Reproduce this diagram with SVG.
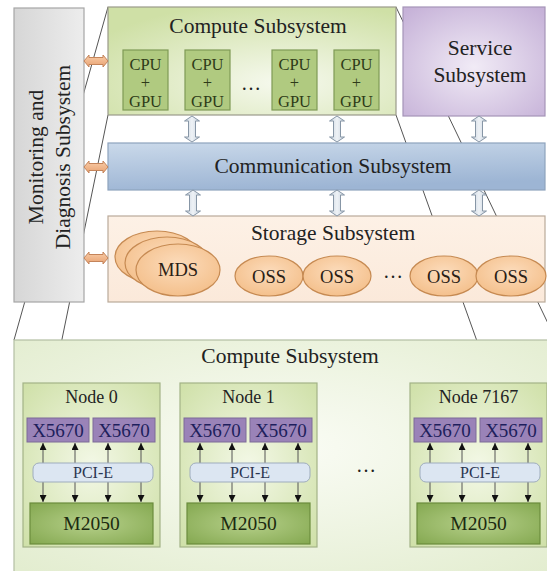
<svg xmlns="http://www.w3.org/2000/svg" width="547" height="571" viewBox="0 0 547 571">
  <defs>
    <radialGradient id="gCompute" cx="0.6" cy="0.7" r="0.75">
      <stop offset="0" stop-color="#f6f9ee"/>
      <stop offset="1" stop-color="#cfe0a6"/>
    </radialGradient>
    <radialGradient id="gBigCompute" cx="0.5" cy="0.45" r="0.7">
      <stop offset="0" stop-color="#fafcf5"/>
      <stop offset="1" stop-color="#e3edd0"/>
    </radialGradient>
    <radialGradient id="gService" cx="0.5" cy="0.55" r="0.7">
      <stop offset="0" stop-color="#f1ebf6"/>
      <stop offset="1" stop-color="#c6b2d8"/>
    </radialGradient>
    <linearGradient id="gComm" x1="0" y1="0" x2="0.3" y2="1">
      <stop offset="0" stop-color="#cad9ea"/>
      <stop offset="1" stop-color="#9db5d4"/>
    </linearGradient>
    <linearGradient id="gStorage" x1="0" y1="0" x2="0" y2="1">
      <stop offset="0" stop-color="#fdf1e6"/>
      <stop offset="1" stop-color="#fbe9da"/>
    </linearGradient>
    <linearGradient id="gMon" x1="0" y1="0" x2="1" y2="0">
      <stop offset="0" stop-color="#d6d6d6"/>
      <stop offset="1" stop-color="#ededed"/>
    </linearGradient>
    <radialGradient id="gEllipse" cx="0.5" cy="0.4" r="0.6">
      <stop offset="0" stop-color="#fcdcbc"/>
      <stop offset="1" stop-color="#f4c08c"/>
    </radialGradient>
    <radialGradient id="gNode" cx="0.5" cy="0.5" r="0.7">
      <stop offset="0" stop-color="#f3f8e6"/>
      <stop offset="1" stop-color="#cfe0a8"/>
    </radialGradient>
    <radialGradient id="gGpu" cx="0.5" cy="0.5" r="0.7">
      <stop offset="0" stop-color="#b6d08a"/>
      <stop offset="1" stop-color="#84a850"/>
    </radialGradient>
    <linearGradient id="gGray" x1="0" y1="0" x2="1" y2="0">
      <stop offset="0" stop-color="#c9d3de"/>
      <stop offset="0.5" stop-color="#eef2f6"/>
      <stop offset="1" stop-color="#c9d3de"/>
    </linearGradient>
    <linearGradient id="gOrange" x1="0" y1="0" x2="0" y2="1">
      <stop offset="0" stop-color="#f9cda8"/>
      <stop offset="1" stop-color="#e8a272"/>
    </linearGradient>
    <!-- vertical double block arrow, 26 tall -->
    <path id="vArrow" d="M-3.5,5 L-7.5,5 L0,0 L7.5,5 L3.5,5 L3.5,21 L7.5,21 L0,26 L-7.5,21 L-3.5,21 Z"/>
    <!-- horizontal double block arrow, 24 wide -->
    <path id="hArrow" d="M0,0 L5,-6 L5,-3.5 L19,-3.5 L19,-6 L24,0 L19,6 L19,3.5 L5,3.5 L5,6 Z"/>
    <marker id="tip" viewBox="0 0 10 10" refX="10" refY="5" markerWidth="7" markerHeight="7" markerUnits="userSpaceOnUse" orient="auto-start-reverse">
      <path d="M0,0 L10,5 L0,10 Z" fill="#111"/>
    </marker>
  </defs>
  <style>
    text { font-family: "Liberation Serif", "Times New Roman", serif; fill: #222; text-anchor: middle; }
    .title { font-size: 21.5px; }
    .box { stroke: #9a9a8a; stroke-width: 1.2; }
    .persp { stroke: #555; stroke-width: 1; fill: none; }
    .cg { fill: #b0ca80; stroke: #7f9a55; stroke-width: 1.2; }
    .cgt { font-size: 16.5px; fill: #2e3b18; }
    .ell { fill: url(#gEllipse); stroke: #c68a52; stroke-width: 1.2; }
    .ellt { font-size: 18.5px; fill: #2a2015; }
    .gray { fill: url(#gGray); stroke: #8796a6; stroke-width: 1; }
    .orange { fill: url(#gOrange); stroke: #c4845a; stroke-width: 1; }
    .node { fill: url(#gNode); stroke: #a3b387; stroke-width: 1.2; }
    .cpu { fill: #9a83b8; stroke: #7d6a98; stroke-width: 1; }
    .cput { font-size: 19px; fill: #1e1f5c; }
    .pci { fill: #dce6f2; stroke: #9eacbd; stroke-width: 1; }
    .gpu { fill: url(#gGpu); stroke: #6b8c3c; stroke-width: 1.2; }
    .bus { stroke: #555; stroke-width: 1; marker-start: url(#tip); marker-end: url(#tip); }
  </style>

  <rect width="547" height="571" fill="#ffffff"/>

  <!-- perspective lines linking the zoomed compute subsystem -->
  <g id="connectors">
    <line class="persp" x1="108" y1="7" x2="14" y2="340"/>
    <line class="persp" x1="108" y1="115" x2="53" y2="383"/>
    <line class="persp" x1="396" y1="115" x2="492" y2="383"/>
    <line class="persp" x1="396" y1="7" x2="556" y2="340"/>
  </g>

  <!-- Monitoring and Diagnosis Subsystem -->
  <g id="monitoring">
    <rect x="14" y="8" width="70" height="294" fill="url(#gMon)" stroke="#a6a6a6" stroke-width="1.2"/>
    <text class="title" transform="translate(43,157) rotate(-90)">Monitoring and</text>
    <text class="title" transform="translate(70,157) rotate(-90)">Diagnosis Subsystem</text>
  </g>

  <!-- top Compute Subsystem -->
  <g id="compute-top">
    <rect class="box" x="108" y="7" width="288" height="108" fill="url(#gCompute)" stroke="#a8b78a"/>
    <text class="title" x="258" y="33">Compute Subsystem</text>
    <g id="cg1">
      <rect class="cg" x="123" y="50" width="45" height="60"/>
      <text class="cgt"><tspan x="145.5" y="69.5">CPU</tspan><tspan x="145.5" y="88">+</tspan><tspan x="145.5" y="106.5">GPU</tspan></text>
    </g>
    <g id="cg2">
      <rect class="cg" x="185" y="50" width="45" height="60"/>
      <text class="cgt"><tspan x="207.5" y="69.5">CPU</tspan><tspan x="207.5" y="88">+</tspan><tspan x="207.5" y="106.5">GPU</tspan></text>
    </g>
    <text x="251" y="90" style="font-size:20px;fill:#222">…</text>
    <g id="cg3">
      <rect class="cg" x="272" y="50" width="45" height="60"/>
      <text class="cgt"><tspan x="294.5" y="69.5">CPU</tspan><tspan x="294.5" y="88">+</tspan><tspan x="294.5" y="106.5">GPU</tspan></text>
    </g>
    <g id="cg4">
      <rect class="cg" x="334" y="50" width="45" height="60"/>
      <text class="cgt"><tspan x="356.5" y="69.5">CPU</tspan><tspan x="356.5" y="88">+</tspan><tspan x="356.5" y="106.5">GPU</tspan></text>
    </g>
  </g>

  <!-- Service Subsystem -->
  <g id="service">
    <rect x="403" y="7" width="142" height="109" fill="url(#gService)" stroke="#a594b8" stroke-width="1.2"/>
    <text class="title"><tspan x="480" y="55">Service</tspan><tspan x="480" y="82">Subsystem</tspan></text>
  </g>

  <!-- Communication Subsystem -->
  <g id="communication">
    <rect x="108" y="143" width="437" height="47" fill="url(#gComm)" stroke="#8ea3bd" stroke-width="1.2"/>
    <text class="title" x="333" y="173">Communication Subsystem</text>
  </g>

  <!-- Storage Subsystem -->
  <g id="storage">
    <rect x="108" y="216" width="437" height="86" fill="url(#gStorage)" stroke="#b9aa9a" stroke-width="1.2"/>
    <text class="title" x="333" y="240">Storage Subsystem</text>
    <ellipse class="ell" cx="157" cy="257" rx="42" ry="26"/>
    <ellipse class="ell" cx="167" cy="263" rx="42" ry="26"/>
    <ellipse class="ell" cx="178" cy="270" rx="42" ry="26"/>
    <text class="ellt" x="178" y="276">MDS</text>
    <ellipse class="ell" cx="269" cy="276" rx="34" ry="20"/>
    <text class="ellt" x="269" y="283">OSS</text>
    <ellipse class="ell" cx="337" cy="276" rx="34" ry="20"/>
    <text class="ellt" x="337" y="283">OSS</text>
    <text x="393" y="278" style="font-size:20px;fill:#222">…</text>
    <ellipse class="ell" cx="444" cy="276" rx="34" ry="20"/>
    <text class="ellt" x="444" y="283">OSS</text>
    <ellipse class="ell" cx="511" cy="276" rx="35" ry="20"/>
    <text class="ellt" x="511" y="283">OSS</text>
  </g>

  <!-- links between subsystems -->
  <g id="links">
    <use href="#vArrow" class="gray" x="192" y="116"/>
    <use href="#vArrow" class="gray" x="337" y="116"/>
    <use href="#vArrow" class="gray" x="479" y="116"/>
    <use href="#vArrow" class="gray" x="193" y="190"/>
    <use href="#vArrow" class="gray" x="337" y="190"/>
    <use href="#vArrow" class="gray" x="479" y="190"/>
    <use href="#hArrow" class="orange" x="84" y="61"/>
    <use href="#hArrow" class="orange" x="84" y="167"/>
    <use href="#hArrow" class="orange" x="84" y="258"/>
  </g>

  <!-- bottom Compute Subsystem (detail) -->
  <g id="compute-detail">
    <rect x="14" y="340" width="545" height="240" fill="url(#gBigCompute)" stroke="#b3bea3" stroke-width="1.2"/>
    <text class="title" x="290" y="363">Compute Subsystem</text>
  </g>

  <g id="node0" transform="translate(23,383)">
    <rect class="node" x="0" y="0" width="137" height="164"/>
    <text x="68.5" y="20" style="font-size:18px">Node 0</text>
    <rect class="cpu" x="4" y="35" width="62" height="24"/>
    <text class="cput" x="35" y="54">X5670</text>
    <rect class="cpu" x="70" y="35" width="62" height="24"/>
    <text class="cput" x="101" y="54">X5670</text>
    <line class="bus" x1="20" y1="60" x2="20" y2="119"/>
    <line class="bus" x1="52" y1="60" x2="52" y2="119"/>
    <line class="bus" x1="85" y1="60" x2="85" y2="119"/>
    <line class="bus" x1="118" y1="60" x2="118" y2="119"/>
    <rect class="pci" x="10" y="80" width="120" height="19" rx="6"/>
    <text x="70" y="95" style="font-size:16px;fill:#2a3550">PCI-E</text>
    <rect class="gpu" x="7" y="120" width="123" height="41"/>
    <text x="68.5" y="147" style="font-size:19.5px;fill:#1c2a10">M2050</text>
  </g>

  <g id="node1" transform="translate(180,383)">
    <rect class="node" x="0" y="0" width="137" height="164"/>
    <text x="68.5" y="20" style="font-size:18px">Node 1</text>
    <rect class="cpu" x="4" y="35" width="62" height="24"/>
    <text class="cput" x="35" y="54">X5670</text>
    <rect class="cpu" x="70" y="35" width="62" height="24"/>
    <text class="cput" x="101" y="54">X5670</text>
    <line class="bus" x1="20" y1="60" x2="20" y2="119"/>
    <line class="bus" x1="52" y1="60" x2="52" y2="119"/>
    <line class="bus" x1="85" y1="60" x2="85" y2="119"/>
    <line class="bus" x1="118" y1="60" x2="118" y2="119"/>
    <rect class="pci" x="10" y="80" width="120" height="19" rx="6"/>
    <text x="70" y="95" style="font-size:16px;fill:#2a3550">PCI-E</text>
    <rect class="gpu" x="7" y="120" width="123" height="41"/>
    <text x="68.5" y="147" style="font-size:19.5px;fill:#1c2a10">M2050</text>
  </g>

  <text x="366" y="472" style="font-size:20px;fill:#222">…</text>

  <g id="node7167" transform="translate(410,383)">
    <rect class="node" x="0" y="0" width="137" height="164"/>
    <text x="68.5" y="20" style="font-size:18px">Node 7167</text>
    <rect class="cpu" x="4" y="35" width="62" height="24"/>
    <text class="cput" x="35" y="54">X5670</text>
    <rect class="cpu" x="70" y="35" width="62" height="24"/>
    <text class="cput" x="101" y="54">X5670</text>
    <line class="bus" x1="20" y1="60" x2="20" y2="119"/>
    <line class="bus" x1="52" y1="60" x2="52" y2="119"/>
    <line class="bus" x1="85" y1="60" x2="85" y2="119"/>
    <line class="bus" x1="118" y1="60" x2="118" y2="119"/>
    <rect class="pci" x="10" y="80" width="120" height="19" rx="6"/>
    <text x="70" y="95" style="font-size:16px;fill:#2a3550">PCI-E</text>
    <rect class="gpu" x="7" y="120" width="123" height="41"/>
    <text x="68.5" y="147" style="font-size:19.5px;fill:#1c2a10">M2050</text>
  </g>
</svg>
